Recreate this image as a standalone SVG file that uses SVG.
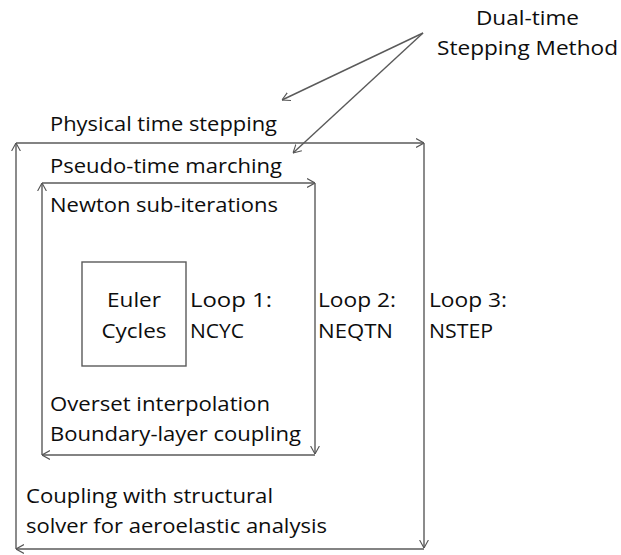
<svg xmlns="http://www.w3.org/2000/svg" width="621" height="555" viewBox="0 0 621 555">
<defs>
<marker id="ah" viewBox="0 0 10 12" refX="10" refY="6" markerWidth="8" markerHeight="10" markerUnits="userSpaceOnUse" orient="auto">
<path d="M0,0.5 L10,6 L0,11.5" fill="none" stroke="#555" stroke-width="1.4"/>
</marker>
</defs>
<style>
.t{font-family:"Open Sans","Liberation Sans",sans-serif;font-size:20px;fill:#0d0d0d}
.c{stroke:#5a5a5a;stroke-width:1.4;fill:none;marker-end:url(#ah)}
</style>
<rect width="621" height="555" fill="#fff"/>
<g id="connectors">
<line class="c" x1="16" y1="549" x2="16" y2="143"/>
<line class="c" x1="16" y1="143" x2="424" y2="143"/>
<line class="c" x1="424" y1="143" x2="424" y2="548"/>
<line class="c" x1="424" y1="549" x2="16" y2="549"/>
<line class="c" x1="42" y1="455" x2="42" y2="183"/>
<line class="c" x1="42" y1="183" x2="315" y2="183"/>
<line class="c" x1="315" y1="183" x2="315" y2="454"/>
<line class="c" x1="315" y1="455" x2="42" y2="455"/>
<line class="c" x1="423" y1="33" x2="282" y2="100"/>
<line class="c" x1="423" y1="33" x2="293" y2="153"/>
</g>
<g id="euler">
<rect x="82" y="262" width="104" height="104" fill="none" stroke="#5a5a5a" stroke-width="1.4"/>
<text class="t" x="134" y="307" text-anchor="middle" textLength="54" lengthAdjust="spacingAndGlyphs">Euler</text>
<text class="t" x="134" y="338" text-anchor="middle" textLength="65" lengthAdjust="spacingAndGlyphs">Cycles</text>
</g>
<g id="loop1">
<text class="t" x="190" y="307" textLength="82" lengthAdjust="spacingAndGlyphs">Loop 1:</text>
<text class="t" x="190" y="338" textLength="54" lengthAdjust="spacingAndGlyphs">NCYC</text>
<text class="t" x="50" y="212" textLength="228" lengthAdjust="spacingAndGlyphs">Newton sub-iterations</text>
<text class="t" x="50" y="411" textLength="220" lengthAdjust="spacingAndGlyphs">Overset interpolation</text>
<text class="t" x="50" y="441" textLength="251" lengthAdjust="spacingAndGlyphs">Boundary-layer coupling</text>
</g>
<g id="loop2">
<text class="t" x="318" y="307" textLength="78" lengthAdjust="spacingAndGlyphs">Loop 2:</text>
<text class="t" x="318" y="338" textLength="75" lengthAdjust="spacingAndGlyphs">NEQTN</text>
<text class="t" x="50" y="173" textLength="232" lengthAdjust="spacingAndGlyphs">Pseudo-time marching</text>
</g>
<g id="loop3">
<text class="t" x="429" y="307" textLength="78" lengthAdjust="spacingAndGlyphs">Loop 3:</text>
<text class="t" x="429" y="338" textLength="64" lengthAdjust="spacingAndGlyphs">NSTEP</text>
<text class="t" x="50" y="131" textLength="227" lengthAdjust="spacingAndGlyphs">Physical time stepping</text>
<text class="t" x="26" y="503" textLength="247" lengthAdjust="spacingAndGlyphs">Coupling with structural</text>
<text class="t" x="26" y="533" textLength="301" lengthAdjust="spacingAndGlyphs">solver for aeroelastic analysis</text>
</g>
<g id="dualtime">
<text class="t" x="527.5" y="25" text-anchor="middle" textLength="103" lengthAdjust="spacingAndGlyphs">Dual-time</text>
<text class="t" x="527.5" y="55" text-anchor="middle" textLength="181" lengthAdjust="spacingAndGlyphs">Stepping Method</text>
</g>
</svg>
